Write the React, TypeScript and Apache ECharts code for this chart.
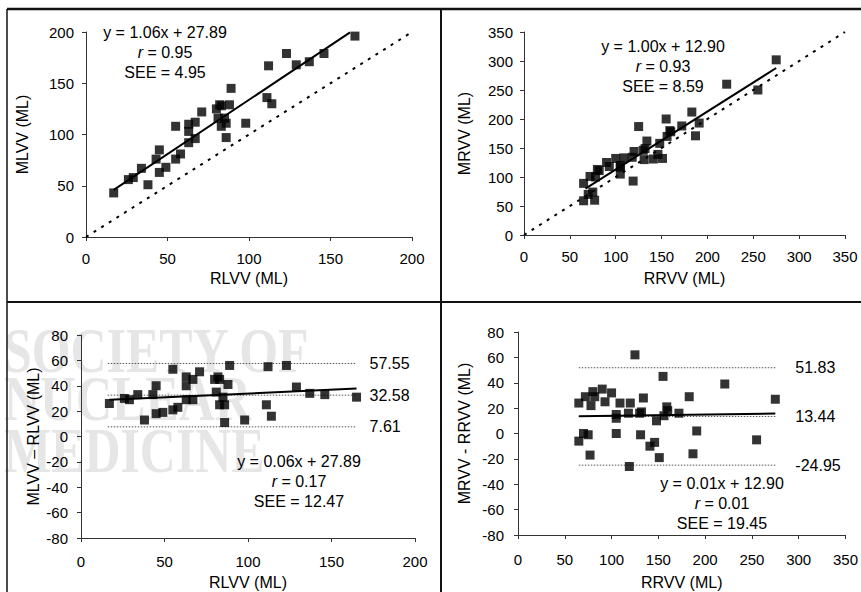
import React, { useEffect, useRef } from "react";
import * as echarts from "echarts";

// ---- Left ventricle (RLVV reference vs MLVV measured), mL ----
const rlvv = [17, 26, 29, 34, 38, 43, 45, 45, 49, 55, 55, 58, 63, 63, 63, 67, 67, 71, 80, 82, 81, 83, 83, 85, 86, 86, 88, 89, 98, 111, 112, 114, 123, 129, 137, 146, 165];
const mlvv = [43, 56, 58, 67, 51, 76, 85, 63, 68, 108, 76, 81, 103, 110, 92, 112, 96, 122, 125, 129, 116, 128, 108, 116, 111, 97, 129, 145, 111, 136, 167, 130, 179, 168, 171, 179, 196];

// ---- Right ventricle (RRVV reference vs MRVV measured), mL ----
const rrvv = [65, 65, 70, 72, 75, 78, 77, 80, 82, 90, 93, 100, 105, 105, 105, 109, 118, 120, 119, 125, 130, 131, 132, 134, 141, 146, 148, 151, 155, 156, 159, 160, 172, 183, 187, 191, 221, 255, 275];
const mrvv = [89, 59, 70, 101, 74, 100, 60, 113, 111, 125, 118, 132, 117, 120, 105, 133, 134, 144, 93, 187, 146, 130, 149, 162, 131, 139, 158, 132, 200, 170, 180, 178, 188, 212, 171, 193, 260, 250, 302];

// regression line end points
const lvFitX = [17, 162];
const lvFitY = [45.9, 199.6];
const rvFitX = [67, 275];
const rvFitY = [79.9, 287.9];
const lvDiffFitX = [17, 165];
const lvDiffFitY = [28.9, 37.8];
const rvDiffFitX = [65, 275];
const rvDiffFitY = [13.6, 15.7];

// identity lines
const lvIdentity = [0, 200];
const rvIdentity = [0, 350];

// Bland-Altman limits (upper, mean, lower)
const lvLimits = [57.55, 32.58, 7.61];
const lvLimitLabels = ["57.55", "32.58", "7.61"];
const lvLimitX = [16, 165];
const rvLimits = [51.83, 13.44, -24.95];
const rvLimitLabels = ["51.83", "13.44", "-24.95"];
const rvLimitX = [65, 275];

// statistics text
const lvStats = ["y = 1.06x + 27.89", "0.95", "4.95"];
const rvStats = ["y = 1.00x + 12.90", "0.93", "8.59"];
const lvDiffStats = ["y = 0.06x + 27.89", "0.17", "12.47"];
const rvDiffStats = ["y = 0.01x + 12.90", "0.01", "19.45"];

const FONT = "Liberation Sans, Arial, sans-serif";
const TICK_FS = 15;
const NAME_FS = 16;
const ANN_FS = 16;

function xAxis(gridIndex: number, max: number, name: string, margin: number, nameGap: number) {
  return {
    type: "value",
    gridIndex,
    min: 0,
    max,
    interval: 50,
    name,
    nameLocation: "middle",
    nameGap,
    nameTextStyle: { color: "#000", fontSize: NAME_FS, fontFamily: FONT },
    axisLine: { show: true, onZero: false, lineStyle: { color: "#333", width: 1 } },
    axisTick: { show: true, length: 4, lineStyle: { color: "#333" } },
    splitLine: { show: false },
    axisLabel: { color: "#000", fontSize: TICK_FS, fontFamily: FONT, margin },
  };
}

function yAxis(gridIndex: number, min: number, max: number, interval: number, name: string, margin: number, nameGap: number) {
  return {
    type: "value",
    gridIndex,
    min,
    max,
    interval,
    name,
    nameLocation: "middle",
    nameGap,
    nameRotate: 90,
    nameTextStyle: { color: "#000", fontSize: NAME_FS, fontFamily: FONT },
    axisLine: { show: true, onZero: false, lineStyle: { color: "#333", width: 1 } },
    axisTick: { show: true, length: 4, lineStyle: { color: "#333" } },
    splitLine: { show: false },
    axisLabel: { color: "#000", fontSize: TICK_FS, fontFamily: FONT, margin },
  };
}

function scatter(idx: number, xs: number[], ys: number[]) {
  return {
    type: "scatter",
    xAxisIndex: idx,
    yAxisIndex: idx,
    data: xs.map((x, i) => [x, ys[i]]),
    symbol: "rect",
    symbolSize: 9,
    itemStyle: { color: "#000" },
    z: 5,
  };
}

function fitLine(idx: number, xs: number[], ys: number[]) {
  return {
    type: "line",
    xAxisIndex: idx,
    yAxisIndex: idx,
    data: xs.map((x, i) => [x, ys[i]]),
    symbol: "none",
    lineStyle: { color: "#000", width: 2 },
    z: 4,
  };
}

function identityLine(idx: number, ends: number[]) {
  return {
    type: "line",
    xAxisIndex: idx,
    yAxisIndex: idx,
    data: ends.map((v) => [v, v]),
    symbol: "none",
    lineStyle: { color: "#000", width: 2, type: [3, 6] },
    z: 3,
  };
}

function limitLine(idx: number, xs: number[], y: number, label: string, distance: number) {
  return {
    type: "line",
    xAxisIndex: idx,
    yAxisIndex: idx,
    data: xs.map((x) => [x, y]),
    symbol: "none",
    lineStyle: { color: "#555", width: 1, type: [1.5, 1.5] },
    endLabel: {
      show: true,
      formatter: label,
      distance,
      color: "#000",
      fontSize: ANN_FS,
      fontFamily: FONT,
    },
    z: 3,
  };
}

function statsText(cx: number, cy: number, stats: string[]) {
  const base = { fill: "#000", fontSize: ANN_FS, fontFamily: FONT, align: "center", verticalAlign: "middle" };
  return [
    { type: "text", x: cx, y: cy, style: { ...base, text: stats[0] } },
    {
      type: "text",
      x: cx,
      y: cy + 20,
      style: {
        ...base,
        text: "{i|r} = " + stats[1],
        rich: { i: { fontStyle: "italic", fontSize: ANN_FS, fontFamily: FONT, fill: "#000" } },
      },
    },
    { type: "text", x: cx, y: cy + 40, style: { ...base, text: "SEE = " + stats[2] } },
  ];
}

function borderLine(x1: number, y1: number, x2: number, y2: number, w: number) {
  return { type: "line", shape: { x1, y1, x2, y2 }, style: { stroke: "#111", lineWidth: w }, z: 10 };
}

function watermark(text: string, y: number) {
  return {
    type: "text",
    x: 4,
    y,
    z: -10,
    scaleX: 0.78,
    style: {
      text,
      fill: "#e6e6e6",
      fontSize: 64,
      fontWeight: "bold",
      fontFamily: "Liberation Serif, Times New Roman, serif",
      align: "left",
      verticalAlign: "middle",
    },
  };
}

export default function App() {
  const ref = useRef<HTMLDivElement>(null);

  useEffect(() => {
    if (!ref.current) return;
    const chart = echarts.init(ref.current, null, { renderer: "svg" });
    const lvDiff = mlvv.map((m, i) => m - rlvv[i]);
    const rvDiff = mrvv.map((m, i) => m - rrvv[i]);

    const option = {
      animation: false,
      backgroundColor: "#fff",
      grid: [
        { left: 86, top: 32, width: 326, height: 205 },
        { left: 524, top: 32, width: 321, height: 203 },
        { left: 81, top: 335, width: 334, height: 203 },
        { left: 518, top: 332, width: 335, height: 203 },
      ],
      xAxis: [
        xAxis(0, 200, "RLVV (ML)", 14, 33),
        xAxis(1, 350, "RRVV (ML)", 14, 35),
        xAxis(2, 200, "RLVV (ML)", 16, 36),
        xAxis(3, 350, "RRVV (ML)", 17, 39),
      ],
      yAxis: [
        yAxis(0, 0, 200, 50, "MLVV (ML)", 12, 56),
        yAxis(1, 0, 350, 50, "MRVV (ML)", 11, 52),
        yAxis(2, -80, 80, 20, "MLVV \u2013 RLVV (ML)", 13, 40),
        yAxis(3, -80, 80, 20, "MRVV - RRVV (ML)", 14, 46),
      ],
      series: [
        identityLine(0, lvIdentity),
        fitLine(0, lvFitX, lvFitY),
        scatter(0, rlvv, mlvv),
        identityLine(1, rvIdentity),
        fitLine(1, rvFitX, rvFitY),
        scatter(1, rrvv, mrvv),
        ...lvLimits.map((v, i) => limitLine(2, lvLimitX, v, lvLimitLabels[i], 13)),
        fitLine(2, lvDiffFitX, lvDiffFitY),
        scatter(2, rlvv, lvDiff),
        ...rvLimits.map((v, i) => limitLine(3, rvLimitX, v, rvLimitLabels[i], 20)),
        fitLine(3, rvDiffFitX, rvDiffFitY),
        scatter(3, rrvv, rvDiff),
      ],
      graphic: [
        watermark("SOCIETY OF", 350),
        watermark("NUCLEAR", 398),
        watermark("MEDICINE", 450),
        ...statsText(165, 32, lvStats),
        ...statsText(663, 46, rvStats),
        ...statsText(299, 461, lvDiffStats),
        ...statsText(722, 483, rvDiffStats),
        borderLine(7, 9, 861, 9, 2.5),
        borderLine(7, 9, 7, 592, 1.5),
        borderLine(7, 302, 861, 302, 2),
        borderLine(441, 9, 441, 592, 2),
      ],
    };
    chart.setOption(option as any);
    return () => chart.dispose();
  }, []);

  return (
    <div
      ref={ref}
      style={{ position: "fixed", left: 0, top: 0, width: 861, height: 592, background: "#fff" }}
    />
  );
}
